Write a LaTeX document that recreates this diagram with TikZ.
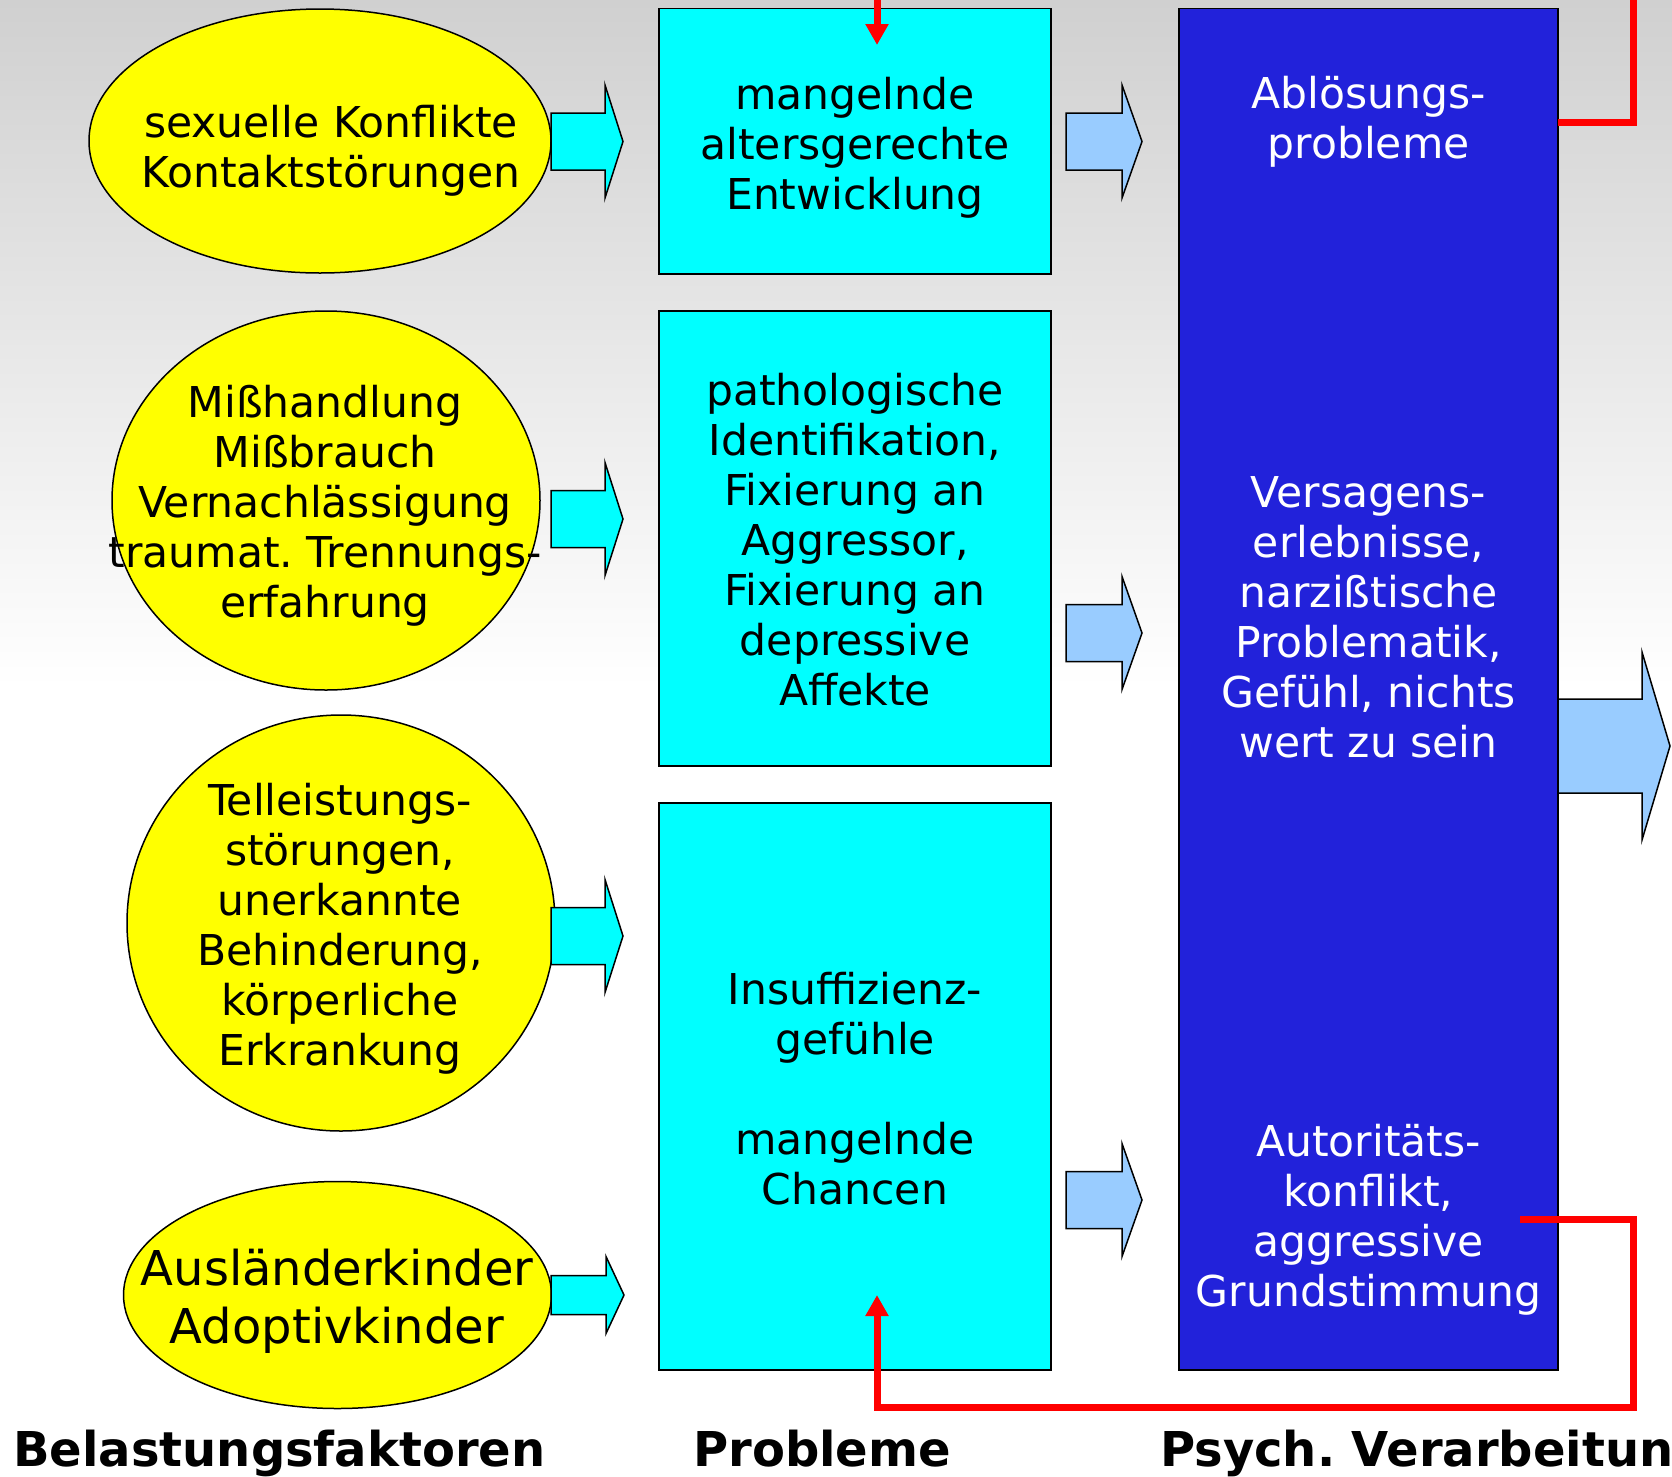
\documentclass[tikz,border=0pt]{standalone}
\usepackage{fontspec}
\setmainfont{DejaVu Sans}
\usetikzlibrary{arrows.meta,shapes.geometric}
\definecolor{bgGrey}{RGB}{208,208,208}
\definecolor{vbBlue}{RGB}{34,34,218}
\definecolor{vbLight}{RGB}{153,204,255}
\definecolor{pbCyan}{RGB}{0,255,255}
\definecolor{bfYellow}{RGB}{255,255,0}
\tikzset{
  bfell/.style={ellipse, draw=black, line width=1.5pt, fill=bfYellow, inner sep=0pt},
  bftxt/.style={align=center, inner sep=0pt, font=\fontsize{42.5}{50}\selectfont},
  bfbox/.style={rectangle, draw=black, line width=1.5pt, fill=pbCyan, inner sep=0pt,
                minimum width=392pt},
  bfver/.style={rectangle, draw=black, line width=1.5pt, fill=vbBlue, inner sep=0pt,
                minimum width=379pt, minimum height=1361.5pt},
  bfarr/.style={draw=black, line width=1.5pt, line join=miter},
  bfloop/.style={draw=red, line width=7pt, line join=miter,
                 -{Triangle[length=21pt,width=22pt]}},
  bfhead/.style={anchor=base west, inner sep=0pt, font=\fontsize{48}{56}\selectfont\bfseries},
}
% block arrow: fill, tail x, centre y, head base x, tip x, shaft half, head half
\newcommand{\bfArrow}[7]{%
  \draw[bfarr, fill=#1] (#2,#3-#6) -- (#4,#3-#6) -- (#4,#3-#7) -- (#5,#3)
    -- (#4,#3+#7) -- (#4,#3+#6) -- (#2,#3+#6) -- cycle;}
\frenchspacing

\begin{document}
\begin{tikzpicture}[x=1pt, y=-1pt]
  \useasboundingbox (0,0) rectangle (1672,1476);
  \shade[top color=bgGrey, bottom color=white] (0,0) rectangle (1672,688);
  \fill[white] (0,687) rectangle (1672,1476);

  % Belastungsfaktoren
  \node[bfell, minimum width=462pt, minimum height=264pt] (e1) at (320,141) {};
  \node[bfell, minimum width=428pt, minimum height=379pt] (e2) at (326,500.5) {};
  \node[bfell, minimum width=428pt, minimum height=416pt] (e3) at (341,923) {};
  \node[bfell, minimum width=428pt, minimum height=227pt] (e4) at (337.5,1295) {};
  \node[bftxt] (t1) at (331,151) {sexuelle Konflikte\\Kontaktstörungen};
  \node[bftxt] (t2) at (325,506) {Mißhandlung\\Mißbrauch\\Vernachlässigung\\traumat. Trennungs-\\erfahrung};
  \node[bftxt] (t3) at (340,929) {Telleistungs-\\störungen,\\unerkannte\\Behinderung,\\körperliche\\Erkrankung};
  \node[bftxt, font=\fontsize{48}{57.5}\selectfont] (t4) at (337,1301) {Ausländerkinder\\Adoptivkinder};

  % Probleme
  \node[bfbox, minimum height=265.5pt] (p1) at (855,141) {};
  \node[bfbox, minimum height=455pt] (p2) at (855,538.5) {};
  \node[bfbox, minimum height=567pt] (p3) at (855,1086.5) {};
  \node[bftxt] (q1) at (855,147.5) {mangelnde\\altersgerechte\\Entwicklung};
  \node[bftxt] (q2) at (855,540) {pathologische\\Identifikation,\\Fixierung an\\Aggressor,\\Fixierung an\\depressive\\Affekte};
  \node[bftxt] (q3) at (855,1089) {Insuffizienz-\\gefühle\\[50pt]mangelnde\\Chancen};

  % Psych. Verarbeitung
  \node[bfver] (v) at (1368.5,689) {};
  \node[bftxt, text=white] (v1) at (1368.5,121.5) {Ablösungs-\\probleme};
  \node[bftxt, text=white] (v2) at (1368.5,617.5) {Versagens-\\erlebnisse,\\narzißtische\\Problematik,\\Gefühl, nichts\\wert zu sein};
  \node[bftxt, text=white] (v3) at (1368.5,1220) {Autoritäts-\\konflikt,\\aggressive\\Grundstimmung};

  \bfArrow{pbCyan}{551}{141.5}{605}{623}{28.5}{56.5}
  \bfArrow{pbCyan}{551}{519}{605}{623}{28.5}{56.5}
  \bfArrow{pbCyan}{551}{936}{605}{623}{28.5}{56.5}
  \bfArrow{pbCyan}{551}{1295}{606}{624}{19.5}{38.5}
  \bfArrow{vbLight}{1066}{141.5}{1122}{1142}{28.5}{56.5}
  \bfArrow{vbLight}{1066}{633}{1122}{1142}{28.5}{56.5}
  \bfArrow{vbLight}{1066}{1200}{1122}{1142}{28.5}{56.5}
  \bfArrow{vbLight}{1558}{746}{1642}{1670}{47}{94}

  % Rueckkopplung
  \coordinate (vtop) at (1558,122.7);
  \coordinate (topout) at (1633,-10);
  \coordinate (topin) at (877,-10);
  \coordinate (p1tip) at (877,45);
  \coordinate (vlow) at (1520,1219);
  \coordinate (p3tip) at (877,1295);
  \draw[bfloop, -] (vtop) -| (topout);
  \draw[bfloop] (topin) -- (p1tip);
  \draw[bfloop] (vlow) -- (1633,1219) -- (1633,1407) -- (877,1407) -- (p3tip);

  \node[bfhead] (hb) at (13,1466) {Belastungsfaktoren};
  \node[bfhead] (hp) at (693,1466) {Probleme};
  \node[bfhead] (hv) at (1160,1466) {Psych. Verarbeitung};
\end{tikzpicture}
\end{document}
